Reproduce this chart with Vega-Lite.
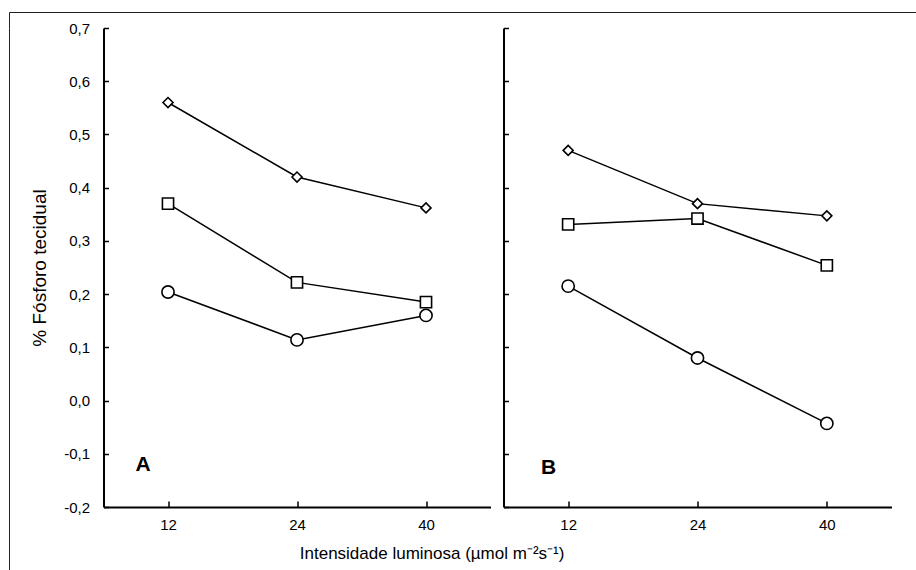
{
  "$schema": "https://vega.github.io/schema/vega-lite/v6.json",
  "padding": {"left": 8, "top": 11, "right": 0, "bottom": 0},
  "background": "white",
  "config": {
    "view": {"stroke": null},
    "font": "Liberation Sans",
    "axis": {
      "labelFont": "Liberation Sans",
      "titleFont": "Liberation Sans",
      "labelColor": "black",
      "titleColor": "black",
      "domainColor": "black",
      "tickColor": "black",
      "domainWidth": 2,
      "tickWidth": 1.5,
      "grid": false,
      "labelFontSize": 15,
      "titleFontSize": 19,
      "titleFontWeight": "normal"
    },
    "title": {"font": "Liberation Sans", "color": "black"}
  },
  "datasets": {
    "pts": [
      {"panel": "A", "series": "diamond", "intensity": "12", "value": 0.56},
      {"panel": "A", "series": "diamond", "intensity": "24", "value": 0.42},
      {"panel": "A", "series": "diamond", "intensity": "40", "value": 0.362},
      {"panel": "A", "series": "square", "intensity": "12", "value": 0.37},
      {"panel": "A", "series": "square", "intensity": "24", "value": 0.222},
      {"panel": "A", "series": "square", "intensity": "40", "value": 0.185},
      {"panel": "A", "series": "circle", "intensity": "12", "value": 0.204},
      {"panel": "A", "series": "circle", "intensity": "24", "value": 0.114},
      {"panel": "A", "series": "circle", "intensity": "40", "value": 0.16},
      {"panel": "B", "series": "diamond", "intensity": "12", "value": 0.47},
      {"panel": "B", "series": "diamond", "intensity": "24", "value": 0.37},
      {"panel": "B", "series": "diamond", "intensity": "40", "value": 0.347},
      {"panel": "B", "series": "square", "intensity": "12", "value": 0.331},
      {"panel": "B", "series": "square", "intensity": "24", "value": 0.342},
      {"panel": "B", "series": "square", "intensity": "40", "value": 0.254},
      {"panel": "B", "series": "circle", "intensity": "12", "value": 0.215},
      {"panel": "B", "series": "circle", "intensity": "24", "value": 0.08},
      {"panel": "B", "series": "circle", "intensity": "40", "value": -0.043}
    ]
  },
  "bounds": "flush",
  "spacing": 0,
  "vconcat": [
    {
      "data": {"values": []},
      "mark": {"type": "point"},
      "encoding": {},
      "width": 907,
      "height": 16,
      "view": {"stroke": "#222222", "strokeWidth": 1, "strokeDash": [907, 923, 16, 0]}
    },
    {
      "bounds": "flush",
      "spacing": 93.5,
      "hconcat": [
        {
          "data": {"values": []},
          "mark": {"type": "point"},
          "encoding": {},
          "width": 1,
          "height": 542,
          "view": {"stroke": "#222222", "strokeWidth": 1, "strokeDash": [0, 544, 542, 0]}
        },
        {
          "bounds": "flush",
          "spacing": 13,
          "title": {
            "text": "Intensidade luminosa (µmol m⁻²s⁻¹)",
            "orient": "bottom",
            "anchor": "middle",
            "fontSize": 17,
            "fontWeight": "normal",
            "offset": 14,
            "dx": -29
          },
          "hconcat": [
            {
              "width": 387,
              "height": 479,
              "layer": [
                {
                  "data": {"name": "pts"},
                  "transform": [{"filter": "datum.panel === 'A'"}],
                  "mark": {"type": "line", "color": "black", "strokeWidth": 1.5},
                  "encoding": {
                    "x": {
                      "field": "intensity", "type": "ordinal",
                      "scale": {"type": "point", "padding": 0.5, "domain": ["12", "24", "40"]},
                      "axis": {"labelAngle": 0, "title": null, "tickSize": -6, "labelPadding": 16}
                    },
                    "y": {
                      "field": "value", "type": "quantitative",
                      "scale": {"domain": [-0.2, 0.7], "nice": false, "zero": false},
                      "axis": {
                        "values": [-0.2, -0.1, 0, 0.1, 0.2, 0.3, 0.4, 0.5, 0.6, 0.7],
                        "labelExpr": "replace(replace(format(datum.value, '.1f'), '.', ','), '−', '-')",
                        "title": "% Fósforo tecidual",
                        "tickSize": -5,
                        "labelPadding": 19,
                        "titlePadding": 14
                      }
                    },
                    "detail": {"field": "series"}
                  }
                },
                {
                  "data": {"name": "pts"},
                  "transform": [{"filter": "datum.panel === 'A'"}],
                  "mark": {"type": "point", "filled": true, "fill": "white", "stroke": "black", "strokeWidth": 1.6, "opacity": 1},
                  "encoding": {
                    "x": {"field": "intensity", "type": "ordinal"},
                    "y": {"field": "value", "type": "quantitative"},
                    "shape": {"field": "series", "type": "nominal", "scale": {"domain": ["diamond", "square", "circle"], "range": ["diamond", "square", "circle"]}, "legend": null},
                    "size": {"field": "series", "type": "nominal", "scale": {"domain": ["diamond", "square", "circle"], "range": [100, 150, 125]}, "legend": null}
                  }
                },
                {
                  "data": {"values": [{"label": "A"}]},
                  "mark": {"type": "text", "fontWeight": "bold", "fontSize": 21, "align": "center", "baseline": "middle", "dx": -25, "color": "black"},
                  "encoding": {
                    "x": {"datum": "12"},
                    "y": {"datum": -0.121},
                    "text": {"field": "label"}
                  }
                }
              ]
            },
            {
              "width": 388,
              "height": 479,
              "layer": [
                {
                  "data": {"name": "pts"},
                  "transform": [{"filter": "datum.panel === 'B'"}],
                  "mark": {"type": "line", "color": "black", "strokeWidth": 1.5},
                  "encoding": {
                    "x": {
                      "field": "intensity", "type": "ordinal",
                      "scale": {"type": "point", "padding": 0.5, "domain": ["12", "24", "40"]},
                      "axis": {"labelAngle": 0, "title": null, "tickSize": -6, "labelPadding": 16}
                    },
                    "y": {
                      "field": "value", "type": "quantitative",
                      "scale": {"domain": [-0.2, 0.7], "nice": false, "zero": false},
                      "axis": {
                        "values": [-0.2, -0.1, 0, 0.1, 0.2, 0.3, 0.4, 0.5, 0.6, 0.7],
                        "labels": false,
                        "title": null,
                        "tickSize": -5
                      }
                    },
                    "detail": {"field": "series"}
                  }
                },
                {
                  "data": {"name": "pts"},
                  "transform": [{"filter": "datum.panel === 'B'"}],
                  "mark": {"type": "point", "filled": true, "fill": "white", "stroke": "black", "strokeWidth": 1.6, "opacity": 1},
                  "encoding": {
                    "x": {"field": "intensity", "type": "ordinal"},
                    "y": {"field": "value", "type": "quantitative"},
                    "shape": {"field": "series", "type": "nominal", "scale": {"domain": ["diamond", "square", "circle"], "range": ["diamond", "square", "circle"]}, "legend": null},
                    "size": {"field": "series", "type": "nominal", "scale": {"domain": ["diamond", "square", "circle"], "range": [100, 150, 125]}, "legend": null}
                  }
                },
                {
                  "data": {"values": [{"label": "B"}]},
                  "mark": {"type": "text", "fontWeight": "bold", "fontSize": 21, "align": "center", "baseline": "middle", "dx": -19.5, "color": "black"},
                  "encoding": {
                    "x": {"datum": "12"},
                    "y": {"datum": -0.127},
                    "text": {"field": "label"}
                  }
                }
              ]
            }
          ]
        }
      ]
    }
  ]
}
